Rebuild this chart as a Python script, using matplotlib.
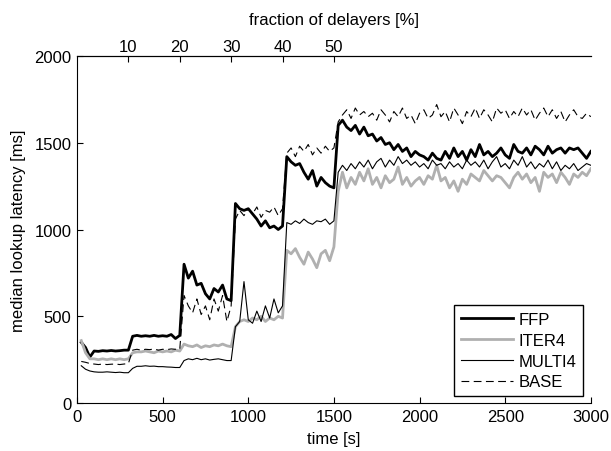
import numpy as np
import matplotlib
matplotlib.use('Agg')
from matplotlib import pyplot as plt

plt.rcParams['font.family'] = ['Liberation Sans', 'DejaVu Sans']
plt.rcParams['font.size'] = 12

# sample times (s), one point every 25 s
time = np.arange(25, 3001, 25)

# median lookup latency [ms]
ffp = [350, 320, 265, 300, 298, 302, 300, 303, 300, 302, 305, 305,
       385, 390, 385, 388, 385, 390, 385, 388, 385, 395, 372, 390,
       800, 720, 760, 680, 690, 630, 600, 660, 640, 680, 600, 590,
       1150, 1120, 1110, 1120, 1090, 1060, 1020, 1050, 1010, 1020, 1000, 1020,
       1420, 1390, 1370, 1380, 1330, 1290, 1340, 1250, 1300, 1270, 1250, 1240,
       1600, 1630, 1590, 1570, 1600, 1550, 1590, 1540, 1550, 1510,
       1530, 1490, 1500, 1460, 1490, 1450, 1470, 1420, 1450, 1430,
       1420, 1400, 1440, 1410, 1400, 1450, 1410, 1470, 1420, 1450,
       1400, 1460, 1420, 1490, 1430, 1450, 1420, 1440, 1470, 1430,
       1410, 1490, 1450, 1440, 1470, 1430, 1480, 1460, 1430, 1480,
       1440, 1460, 1470, 1440, 1470, 1460, 1470, 1440, 1410, 1450]

iter4 = [360, 290, 255, 255, 250, 255, 250, 255, 250, 255, 250, 255,
         290, 295, 295, 300, 295, 290, 300, 295, 300, 295, 305, 300,
         340, 330, 325, 335, 320, 330, 325, 335, 330, 340, 330, 325,
         440, 470, 480, 470, 490, 480, 500, 470, 490, 480, 500, 490,
         880, 860, 890, 840, 800, 870, 830, 780, 860, 880, 820, 900,
         1220, 1330, 1240, 1300, 1260, 1330, 1280, 1350, 1260, 1300,
         1240, 1310, 1270, 1290, 1360, 1260, 1300, 1250, 1280, 1300,
         1260, 1310, 1290, 1370, 1280, 1300, 1240, 1280, 1220, 1290,
         1260, 1320, 1300, 1280, 1340, 1310, 1280, 1310, 1300, 1270,
         1240, 1300, 1330, 1290, 1320, 1270, 1300, 1220, 1330, 1300,
         1320, 1270, 1330, 1300, 1260, 1320, 1300, 1330, 1310, 1350]

multi4 = [215, 195, 185, 180, 178, 178, 180, 178, 176, 178, 175, 175,
          200, 212, 212, 215, 212, 213, 210, 210, 208, 207, 205, 205,
          245, 255, 250, 258, 250, 255, 248, 252, 255, 250, 245, 245,
          440, 470, 700, 480, 460, 530, 470, 560, 490, 600, 520, 560,
          1040, 1030, 1050, 1035, 1060, 1040, 1030, 1050, 1045, 1060, 1030, 1050,
          1330, 1370, 1340, 1380, 1350, 1390, 1360, 1400, 1350, 1390,
          1410, 1360, 1400, 1370, 1420, 1380, 1400, 1370, 1390, 1360,
          1380, 1350, 1400, 1370, 1380, 1350, 1390, 1360, 1380, 1350,
          1400, 1370, 1390, 1360, 1400, 1350, 1390, 1420, 1360, 1380,
          1350, 1400, 1370, 1420, 1360, 1390, 1350, 1380, 1360, 1400,
          1350, 1390, 1340, 1370, 1350, 1380, 1340, 1360, 1380, 1370]

base = [240, 235, 228, 225, 222, 225, 222, 224, 225, 222, 225, 228,
        305, 310, 305, 310, 308, 312, 305, 310, 308, 312, 310, 310,
        620, 560, 520, 600, 510, 560, 480, 600, 530, 620, 470, 560,
        1060, 1110, 1080, 1120, 1090, 1130, 1070, 1110, 1100, 1130, 1080, 1120,
        1440, 1470, 1420, 1480, 1450, 1490, 1430, 1470, 1440, 1480, 1450, 1470,
        1620, 1660, 1690, 1640, 1700, 1660, 1680, 1650, 1670, 1630,
        1690, 1660, 1620, 1680, 1650, 1700, 1640, 1660, 1610, 1670,
        1690, 1640, 1660, 1720, 1650, 1680, 1620, 1700, 1660, 1610,
        1680, 1650, 1700, 1640, 1690, 1660, 1620, 1700, 1670, 1690,
        1640, 1680, 1650, 1700, 1660, 1690, 1630, 1670, 1700, 1650,
        1690, 1640, 1680, 1620, 1660, 1690, 1650, 1640, 1670, 1650]

top_ticks = [300, 600, 900, 1200, 1500]
top_labels = ['10', '20', '30', '40', '50']

fig = plt.figure(figsize=(6.11, 4.52), dpi=100)
ax = fig.add_axes([0.126, 0.106, 0.841, 0.768])

ax.plot(time, ffp, color='black', lw=2.0, label='FFP')
ax.plot(time, iter4, color='#b0b0b0', lw=2.0, label='ITER4')
ax.plot(time, multi4, color='black', lw=0.8, label='MULTI4')
ax.plot(time, base, color='black', lw=0.8, dashes=(7, 4), label='BASE')

ax.set_xlim(0, 3000)
ax.set_ylim(0, 2000)
ax.set_xticks(np.arange(0, 3001, 500))
ax.set_yticks(np.arange(0, 2001, 500))
ax.tick_params(direction='in', length=4, top=False, right=False, pad=4)
ax.spines['right'].set_visible(False)
ax.set_xlabel('time [s]', labelpad=5)
ax.set_ylabel('median lookup latency [ms]', labelpad=6)

# top axis: fraction of delayers
ax2 = ax.twiny()
ax2.set_xlim(ax.get_xlim())
ax2.set_xticks(top_ticks)
ax2.set_xticklabels(top_labels)
ax2.tick_params(direction='in', length=4, pad=1.5)
ax2.spines['right'].set_visible(False)
ax2.spines['bottom'].set_visible(False)
ax2.spines['left'].set_visible(False)
ax2.set_xlabel('fraction of delayers [%]', labelpad=11)

leg = ax.legend(loc='lower right', bbox_to_anchor=(0.985, 0.02), fancybox=False,
                edgecolor='black', framealpha=1, handlelength=3.1,
                labelspacing=0.35, borderpad=0.4, handletextpad=0.35,
                borderaxespad=0)
leg.get_frame().set_linewidth(1.0)

fig.savefig('out.png', dpi=100)
